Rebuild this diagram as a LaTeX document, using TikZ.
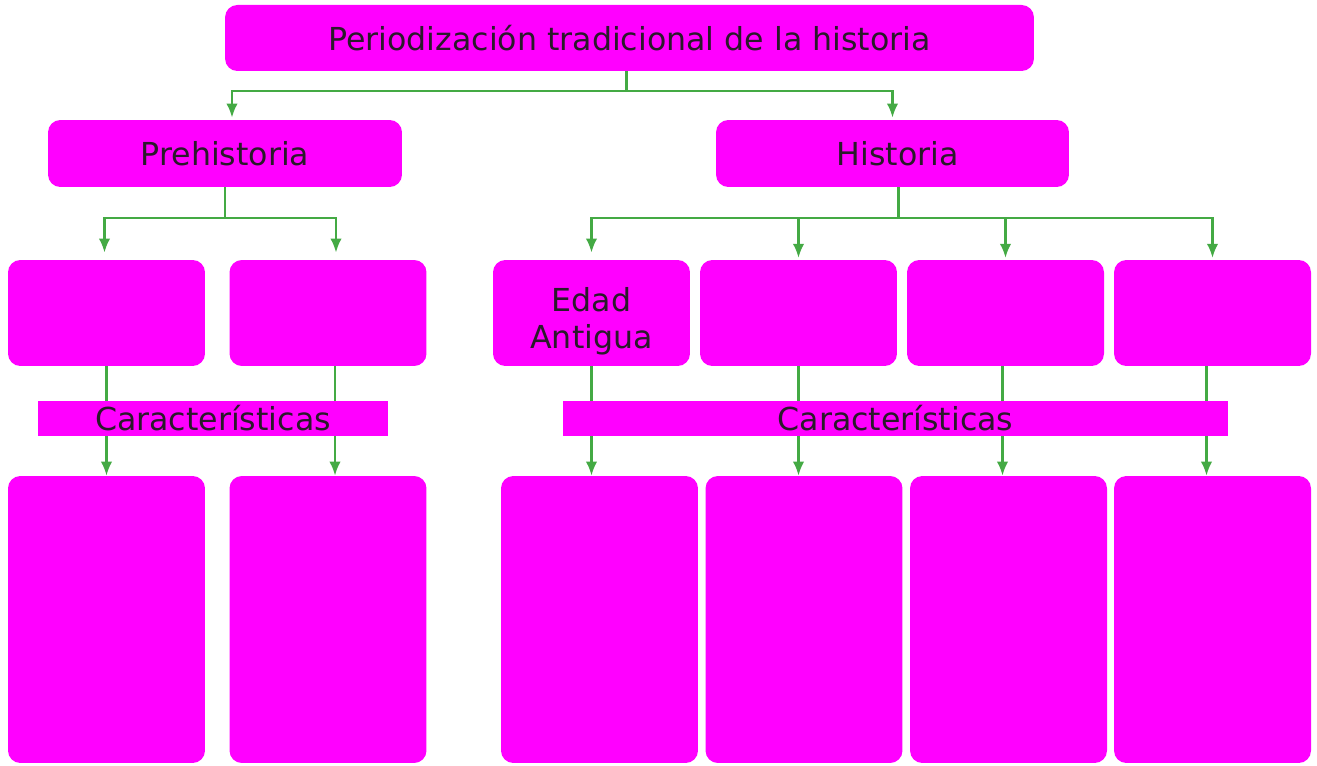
\documentclass[tikz,border=0pt]{standalone}
\usepackage{fontspec}
\setmainfont{DejaVu Sans}
\usetikzlibrary{arrows.meta, positioning, calc}
\definecolor{colM}{RGB}{255, 0, 255}
\definecolor{colG}{RGB}{68, 170, 68}
\definecolor{colT}{RGB}{42, 26, 42}

\begin{document}
\begin{tikzpicture}[x=0.02cm, y=-0.02cm,
    every node/.style={font=\fontsize{18}{21.5}\selectfont, text=colT},
    caja/.style={fill=colM, rounded corners=7pt, inner sep=0pt, align=center},
    periodo/.style={caja, minimum width=3.94cm, minimum height=2.12cm},
    detalle/.style={caja, minimum width=3.94cm, minimum height=5.74cm},
    barra/.style={fill=colM, inner sep=0pt, minimum height=0.7cm},
    flecha/.style={draw=colG, line width=1.3pt, -{Latex[length=8pt,width=6.5pt]}}]
    \useasboundingbox (0,0) rectangle (1317,766);

    % --- Titulo ---
    \node[caja, minimum width=16.18cm, minimum height=1.32cm] (titulo) at (629.5,38) {Periodización tradicional de la historia};

    % --- Prehistoria / Historia ---
    \node[caja, minimum width=7.08cm, minimum height=1.34cm] (prehist) at (225,153.5) {Prehistoria};
    \node[caja, minimum width=7.06cm, minimum height=1.34cm] (hist) at (892.5,153.5) {\hspace{6pt}Historia};

    % Periodos de la Prehistoria
    \node[periodo] (pre1) at (106.5,313) {};
    \node[periodo] (pre2) at (328,313) {};
    % Periodos de la Historia
    \node[periodo] (antigua) at (591.5,313) {\rule{0pt}{23pt}Edad\\Antigua};
    \node[periodo] (his2) at (798.5,313) {};
    \node[periodo] (his3) at (1005.5,313) {};
    \node[periodo] (his4) at (1212.5,313) {};

    % Cajas de caracteristicas
    \node[detalle] (det1) at (106.5,619.5) {};
    \node[detalle] (det2) at (328,619.5) {};
    \node[detalle] (det3) at (599.5,619.5) {};
    \node[detalle] (det4) at (804,619.5) {};
    \node[detalle] (det5) at (1008.5,619.5) {};
    \node[detalle] (det6) at (1212.5,619.5) {};

    % --- Conectores ---
    \draw[flecha] ($(titulo.south)+(-3,0)$) -- ++(0,20) -| ($(prehist.north)+(7,-2)$);
    \draw[flecha] ($(titulo.south)+(-3,0)$) -- ++(0,20) -| ($(hist.north)+(0,-2)$);

    \draw[flecha, shorten >=4pt] (prehist.south) -- ++(0,31) -| ($(pre1.north)+(-2,0)$);
    \draw[flecha, shorten >=4pt] (prehist.south) -- ++(0,31) -| ($(pre2.north)+(8,0)$);
    \draw[flecha, shorten >=4pt] ($(hist.south)+(6,0)$) -- ++(0,31) -| (antigua.north);
    \foreach \n in {his2, his3, his4}
        \draw[flecha, shorten >=1pt] ($(hist.south)+(6,0)$) -- ++(0,31) -| (\n.north);

    \draw[flecha] (pre1.south) -- (pre1.south |- det1.north);
    \draw[flecha] ($(pre2.south)+(7,0)$) -- ($(pre2.south |- det2.north)+(7,0)$);
    \foreach \a/\b in {antigua/det3, his2/det4}
        \draw[flecha] (\a.south) -- (\a.south |- \b.north);
    \draw[flecha] ($(his3.south)+(-3,0)$) -- ($(his3.south |- det5.north)+(-3,0)$);
    \draw[flecha] ($(his4.south)+(-6,0)$) -- ($(his4.south |- det6.north)+(-6,0)$);

    % --- Barras ---
    \node[barra, minimum width=7cm] (carpre) at (213,418.5) {Características};
    \node[barra, minimum width=13.3cm] (carhis) at (895.5,418.5) {Características};
\end{tikzpicture}
\end{document}
